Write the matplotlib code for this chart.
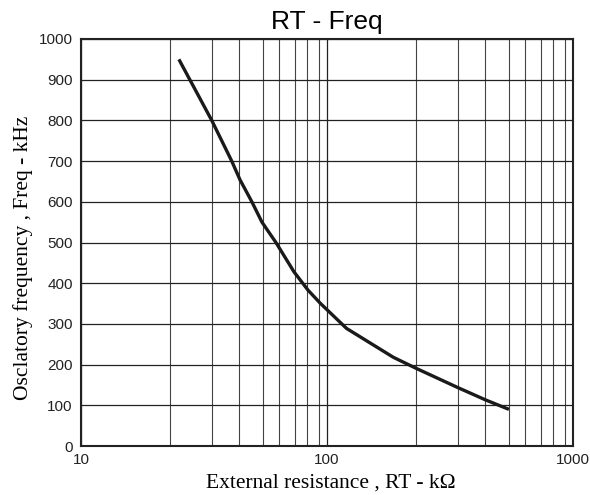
import numpy as np
import matplotlib.pyplot as plt
from matplotlib.ticker import FixedLocator, NullFormatter

# curve
rt_kohm = [25, 34, 41, 44.3, 49.5, 54.4, 62, 73.4, 83.7, 93.8, 120, 186, 230, 339, 442, 549]
freq_khz = [950, 800, 700, 654, 600, 550, 500, 428, 383, 351, 289, 218, 191, 144, 113, 90]

x_ticks = [10, 100, 1000]
y_ticks = list(range(0, 1001, 100))
# the printed log grid is not quite at 20..90, these are where the lines sit
grid_first = [23, 34, 44, 55, 64, 74, 83, 93]
x_grid = grid_first + [g * 10 for g in grid_first]

fig = plt.figure(figsize=(5.9, 4.95), dpi=100)
ax = fig.add_axes([81 / 590, 49 / 495, 492 / 590, 407 / 495])

ax.set_xscale("log")
ax.set_xlim(10, 1000)
ax.set_ylim(0, 1000)

ax.xaxis.set_major_locator(FixedLocator(x_ticks))
ax.xaxis.set_major_formatter(plt.FixedFormatter([str(t) for t in x_ticks]))
ax.xaxis.set_minor_locator(FixedLocator(x_grid))
ax.xaxis.set_minor_formatter(NullFormatter())
ax.set_yticks(y_ticks)

ax.grid(True, which="major", axis="both", color="#222222", linewidth=0.9)
ax.grid(True, which="minor", axis="x", color="#444444", linewidth=0.8)
ax.tick_params(which="both", length=0)
ax.tick_params(axis="x", pad=5)
ax.tick_params(axis="y", pad=6)

for lab in ax.get_xticklabels() + ax.get_yticklabels():
    lab.set_fontfamily("Liberation Sans")
    lab.set_fontsize(11)
    lab.set_color("#222222")

for sp in ax.spines.values():
    sp.set_linewidth(1.5)
    sp.set_color("#222222")

ax.plot(rt_kohm, freq_khz, color="#1a1a1a", linewidth=2.4, solid_capstyle="butt")

ax.set_title("RT - Freq", fontfamily="Liberation Sans", fontsize=19, pad=7)
ax.set_xlabel("External resistance , RT - k\u03a9", fontfamily="Liberation Serif",
              fontsize=15.5)
ax.set_ylabel("Osclatory frequency , Freq - kHz", fontfamily="Liberation Serif",
              fontsize=15.5)
ax.xaxis.set_label_coords(0.508, -0.068)
ax.yaxis.set_label_coords(-0.097, 0.462)

fig.savefig("out.png", dpi=100)
